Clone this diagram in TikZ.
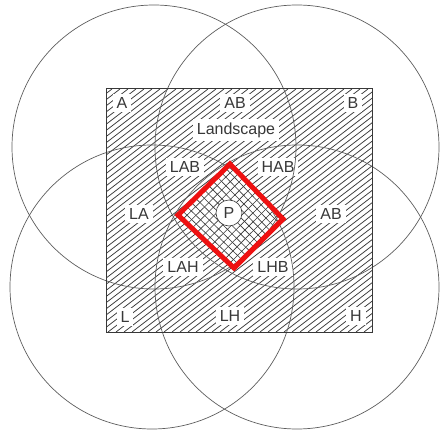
\documentclass[tikz,border=0pt]{standalone}
\usepackage{fontspec}
\setmainfont{Liberation Sans}
\usetikzlibrary{positioning,calc}
\definecolor{lsInk}{HTML}{383838}
\definecolor{lsRing}{HTML}{5E5E5E}
\definecolor{lsRed}{HTML}{EE1111}
\tikzset{
  zone ring/.style={circle,draw=lsRing,line width=0.7pt,minimum size=284pt,inner sep=0pt},
  zone label/.style={fill=white,text=lsInk,inner xsep=4pt,inner ysep=3.5pt,font=\fontsize{16}{16}\selectfont},
  hatch line/.style={draw=lsInk,line width=0.75pt},
  grid line/.style={draw=lsInk,line width=0.6pt},
  view frame/.style={draw=lsRed,line width=5pt,line join=miter}
}
\begin{document}
\begin{tikzpicture}[x=1pt,y=-1pt]
\useasboundingbox (0,0) rectangle (440,431);
\node[minimum width=265pt,minimum height=243pt,inner sep=0pt] (land) at (239.5,210.5) {};
% diagonal hatching over the landscape
\begin{scope}
\clip (land.south west) rectangle (land.north east);
\foreach \x in {-212,-204,...,372} \draw[hatch line] (\x,332) -- ++(316,-243);
\end{scope}
% view square, cross-hatched
\coordinate (dT) at (230,164);
\coordinate (dR) at (283,219);
\coordinate (dB) at (234,268);
\coordinate (dL) at (178,215);
\fill[white] (dT) -- (dR) -- (dB) -- (dL) -- cycle;
\foreach \t in {1,...,11} {
  \draw[grid line] ($(dL)!{\t/12}!(dT)$) -- ($(dB)!{\t/12}!(dR)$);
  \draw[grid line] ($(dL)!{\t/12}!(dB)$) -- ($(dT)!{\t/12}!(dR)$);
}
% zone labels
\node[zone label] (a) at (122,103) {A};
\node[zone label] (ab) at (235,103) {AB};
\node[zone label] (b) at (353,103) {B};
\node[zone label] (scape) at (236,130) {Landscape};
\node[zone label] (lab) at (185,167) {LAB};
\node[zone label] (hab) at (278,167) {HAB};
\node[zone label] (la) at (139,214) {LA};
\node[zone label] (abr) at (331,214) {AB};
\node[zone label] (lah) at (183,267) {LAH};
\node[zone label] (lhb) at (273,267) {LHB};
\node[zone label] (l) at (125,317) {L};
\node[zone label] (lh) at (230,316) {LH};
\node[zone label] (h) at (356,316) {H};
% the four rings
\node[zone ring] (ringA) at (154,147) {};
\node[zone ring] (ringB) at (297,147) {};
\node[zone ring] (ringL) at (152,287) {};
\node[zone ring] (ringH) at (297,287) {};
\draw[draw=lsInk,line width=1pt] (land.south west) rectangle (land.north east);
\node[zone label,circle,draw=lsInk,line width=0.6pt,minimum size=26pt,inner sep=0pt] (p) at (229,213) {P};
\draw[view frame] (dT) -- (dR) -- (dB) -- (dL) -- cycle;
\end{tikzpicture}
\end{document}
